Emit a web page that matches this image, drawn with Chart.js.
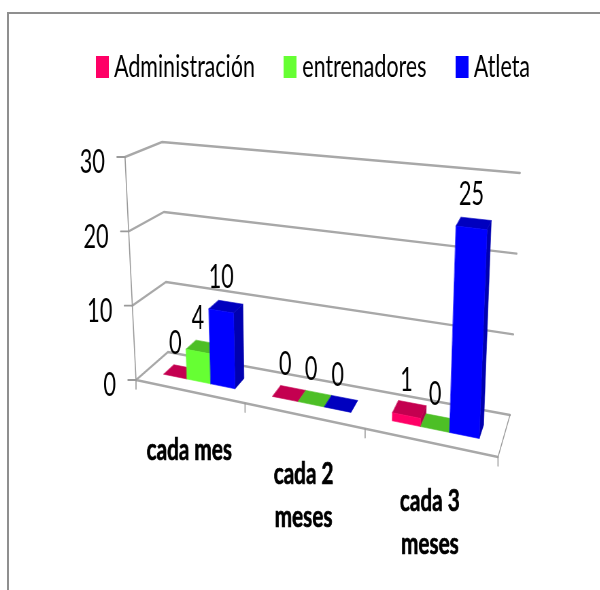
<!DOCTYPE html>
<html>
<head>
<meta charset="utf-8">
<script src="https://cdn.jsdelivr.net/npm/chart.js@4/dist/chart.umd.min.js"></script>
<style>
  html, body { margin: 0; padding: 0; background: #fff; overflow: hidden; }
  #frame { position: absolute; left: 7px; top: 12px; width: 620px; height: 620px;
           border-left: 2px solid #8f8f8f; border-top: 2px solid #8f8f8f; box-sizing: border-box; }
  #stage { position: absolute; left: 0; top: 0; width: 883px; height: 590px;
           transform: scaleX(0.68); transform-origin: 0 0; }
</style>
</head>
<body>
<div id="frame"></div>
<div id="stage"><canvas id="chart" width="883" height="590"></canvas></div>
<script>
const categories = [['cada mes'], ['cada 2', 'meses'], ['cada 3', 'meses']];
const administracion = [0, 0, 1];
const entrenadores = [4, 0, 0];
const atleta = [10, 0, 25];
const seriesNames = ['Administración', 'entrenadores', 'Atleta'];
const yTicks = [0, 10, 20, 30];

const faceColors = [
  { front: '#FF0066', top: '#C40050', side: '#B0004A' },
  { front: '#66FF33', top: '#4DBF26', side: '#44AA22' },
  { front: '#0000FF', top: '#0000BF', side: '#0000B0' }
];

const squeeze = 0.68;              // horizontal condensing applied to the stage
const fontFamily = 'Lato, sans-serif';
const perspectiveK = 1.16;         // foreshortening along the category axis
const barDepth = [0.33, 0.66];     // front and back of each prism on the floor

// Corners of the 3D box on the page: [u, value, depth]
const box = {
  f0L: [136, 380], f0R: [498, 457], fTL: [125, 157], fTR: [509, 199],
  b0L: [168, 352], b0R: [510, 415], bTL: [162, 142], bTR: [520, 173]
};

const lerp = (a, b, t) => a + (b - a) * t;
const mix = (p, q, t) => [lerp(p[0], q[0], t), lerp(p[1], q[1], t)];

// Maps normalised axis position, value and depth onto the canvas
function project(u, v, z) {
  const f = u / (u + perspectiveK * (1 - u));
  const front = mix(mix(box.f0L, box.f0R, f), mix(box.fTL, box.fTR, f), v);
  const back = mix(mix(box.b0L, box.b0R, f), mix(box.bTL, box.bTR, f), v);
  const p = mix(front, back, z);
  return [p[0] / squeeze, p[1]];
}

function poly(ctx, pts, fill) {
  ctx.beginPath();
  pts.forEach((p, i) => i ? ctx.lineTo(p[0], p[1]) : ctx.moveTo(p[0], p[1]));
  ctx.closePath();
  ctx.fillStyle = fill;
  ctx.fill();
  ctx.strokeStyle = fill;
  ctx.lineWidth = 0.6;
  ctx.stroke();
}

function path(ctx, pts, color, width) {
  ctx.beginPath();
  pts.forEach((p, i) => i ? ctx.lineTo(p[0], p[1]) : ctx.moveTo(p[0], p[1]));
  ctx.strokeStyle = color;
  ctx.lineWidth = width;
  ctx.stroke();
}

const swatches = faceColors.map(c => {
  const cv = document.createElement('canvas');
  cv.width = 19; cv.height = 22;
  const g = cv.getContext('2d');
  g.fillStyle = c.front;
  g.fillRect(0, 0, 19, 22);
  return cv;
});

const perspectiveBars = {
  id: 'perspectiveBars',
  beforeDatasetsDraw(chart) {
    const { ctx, scales: { x, y } } = chart;
    const toU = px => (px - x.left) / (x.right - x.left);
    const toV = py => (y.bottom - py) / (y.bottom - y.top);

    ctx.save();
    ctx.lineCap = 'round';

    // Walls: one gridline per value tick, running front-left, back-left, back-right
    y.ticks.forEach(t => {
      const v = toV(y.getPixelForValue(t.value));
      path(ctx, [project(0, v, 0), project(0, v, 1), project(1, v, 1)], '#a8a8a8', 2.4);
    });

    // Floor outline and value axis
    path(ctx, [project(0, 0, 0), project(1, 0, 0)], '#a8a8a8', 2.6);
    path(ctx, [project(1, 0, 0), project(1, 0, 1)], '#9a9a9a', 1.4);
    path(ctx, [project(0, 0, 0), project(0, 1, 0)], '#9a9a9a', 1.6);

    // Axis tick marks and value-axis labels
    ctx.font = '32px ' + fontFamily;
    ctx.fillStyle = '#000';
    y.ticks.forEach(t => {
      const v = toV(y.getPixelForValue(t.value));
      const p = project(0, v, 0);
      path(ctx, [[p[0] - 8 / squeeze, p[1]], p], '#9a9a9a', 1.8);
      ctx.textAlign = 'right';
      ctx.textBaseline = 'middle';
      ctx.fillText(String(t.value), p[0] - 20 / squeeze, p[1] + 6);
    });

    const step = x.getPixelForValue(1) - x.getPixelForValue(0);
    const edges = categories.map((_, i) => toU(x.getPixelForValue(i) - step / 2));
    edges.concat([1]).forEach(u => {
      const p = project(u, 0, 0);
      path(ctx, [p, [p[0], p[1] + 9]], '#9a9a9a', 1.6);
    });

    // Category labels hang below the front edge of the floor
    ctx.font = 'bold 30.5px ' + fontFamily;
    ctx.textAlign = 'center';
    ctx.textBaseline = 'middle';
    ctx.fillStyle = '#000';
    ctx.strokeStyle = '#000';
    ctx.lineWidth = 0.7;
    categories.forEach((lines, i) => {
      const p = project(toU(x.getPixelForValue(i)), 0, 0);
      lines.forEach((line, n) => {
        ctx.fillText(line, p[0], p[1] + 59 + n * 43);
        ctx.strokeText(line, p[0], p[1] + 59 + n * 43);
      });
    });

    // Prisms, painted left to right so nearer faces cover earlier ones
    const labels = [];
    categories.forEach((_, i) => {
      chart.data.datasets.forEach((ds, d) => {
        const bar = chart.getDatasetMeta(d).data[i];
        const colors = faceColors[d];
        const u0 = toU(bar.x - bar.width / 2);
        const u1 = toU(bar.x + bar.width / 2);
        const v0 = toV(bar.base);
        const v1 = toV(bar.y);
        const [z0, z1] = barDepth;
        if (v1 > v0) {
          poly(ctx, [project(u1, v0, z0), project(u1, v0, z1), project(u1, v1, z1), project(u1, v1, z0)], colors.side);
        }
        poly(ctx, [project(u0, v1, z0), project(u1, v1, z0), project(u1, v1, z1), project(u0, v1, z1)], colors.top);
        if (v1 > v0) {
          poly(ctx, [project(u0, v0, z0), project(u1, v0, z0), project(u1, v1, z0), project(u0, v1, z0)], colors.front);
        }
        const cx = project((u0 + u1) / 2, v1, z0)[0];
        const cy = project((u0 + u1) / 2, v1, (z0 + z1) / 2)[1] - 28.5;
        labels.push([String(ds.data[i]), cx, cy]);
      });
    });

    // Value labels float above the top of each prism
    ctx.font = '32px ' + fontFamily;
    ctx.fillStyle = '#000';
    labels.forEach(l => ctx.fillText(l[0], l[1], l[2]));

    ctx.restore();
    return false;
  }
};

new Chart(document.getElementById('chart'), {
  type: 'bar',
  plugins: [perspectiveBars],
  data: {
    labels: categories,
    datasets: [
      { label: seriesNames[0], data: administracion, backgroundColor: faceColors[0].front },
      { label: seriesNames[1], data: entrenadores, backgroundColor: faceColors[1].front },
      { label: seriesNames[2], data: atleta, backgroundColor: faceColors[2].front }
    ]
  },
  options: {
    responsive: false,
    animation: false,
    layout: { padding: { left: 98, top: 1, right: 20, bottom: 20 } },
    datasets: { bar: { categoryPercentage: 2 / 3, barPercentage: 1 } },
    scales: {
      x: { type: 'category', display: false, offset: true },
      y: { type: 'linear', display: false, min: yTicks[0], max: yTicks[yTicks.length - 1], ticks: { stepSize: 10 } }
    },
    plugins: {
      tooltip: { enabled: false },
      legend: {
        position: 'top',
        align: 'start',
        labels: {
          usePointStyle: true,
          boxWidth: 4,
          padding: 50,
          color: '#000',
          font: { family: fontFamily, size: 31.5 },
          generateLabels: chart => chart.data.datasets.map((ds, i) => ({
            text: ds.label,
            pointStyle: swatches[i],
            fontColor: '#000',
            lineWidth: 0,
            datasetIndex: i
          }))
        }
      }
    }
  }
});
</script>
</body>
</html>
